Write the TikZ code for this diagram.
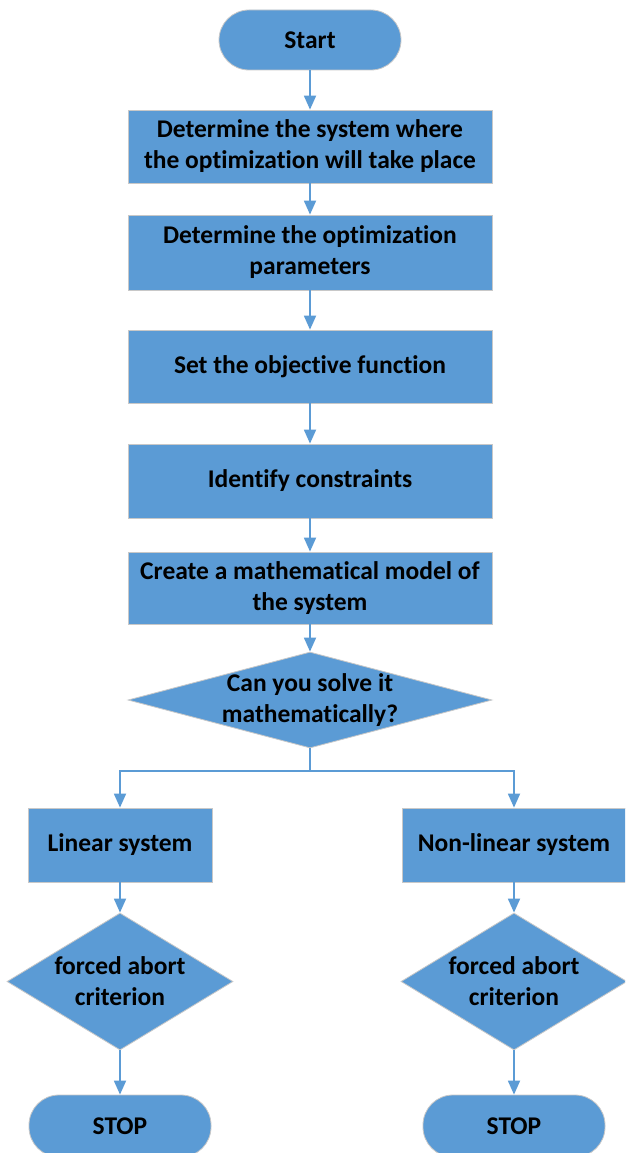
\documentclass[tikz,border=0pt]{standalone}
\usepackage{fontspec}
\setmainfont[Ligatures=NoCommon]{Carlito}
\usetikzlibrary{shapes.geometric,arrows.meta}
\definecolor{fillblue}{HTML}{5B9BD5}
\definecolor{edgegray}{HTML}{C8C8C8}
\begin{document}
\begin{tikzpicture}[x=1pt,y=-1pt,
  every node/.style={font=\fontsize{25.5}{31}\selectfont\bfseries, align=center, text=black},
  procbox/.style={draw=edgegray, line width=0.8pt, fill=fillblue, minimum width=364pt, minimum height=73pt, inner sep=0pt},
  sidebox/.style={draw=edgegray, line width=0.8pt, fill=fillblue, minimum height=74pt, inner sep=0pt},
  termbox/.style={draw=edgegray, line width=0.8pt, fill=fillblue, rounded corners=30pt, minimum width=182pt, minimum height=60pt, inner sep=0pt},
  decision/.style={draw=edgegray, line width=0.8pt, fill=fillblue, shape=diamond, inner sep=0pt},
  arr/.style={draw=fillblue, line width=1.8pt, -{Triangle[length=14pt,width=12pt]}},
  plain/.style={draw=fillblue, line width=1.8pt}
]
\useasboundingbox (0,0) rectangle (625,1153);
\clip (0,0) rectangle (625,1153);
\fill[white] (0,0) rectangle (625,1153);

\node[termbox] (start) at (310,40) {Start};
\node[procbox] (b1) at (310,146.5) {Determine the system where\\the optimization will take place};
\node[procbox, minimum height=75pt] (b2) at (310,252.5) {Determine the optimization\\parameters};
\node[procbox] (b3) at (310,366.5) {Set the objective function};
\node[procbox, minimum height=74pt] (b4) at (310,481) {Identify constraints};
\node[procbox, minimum height=72pt] (b5) at (310,588) {Create a mathematical model of\\the system};
\node[decision, minimum width=364pt, minimum height=96pt,
  label={center:Can you solve it\\mathematically?}] (d) at (310,700) {};
\coordinate (split) at (310,771);
\node[sidebox, minimum width=184pt] (lin) at (120,845) {Linear system};
\node[sidebox, minimum width=224pt] (nonlin) at (514,845) {Non-linear system};
\node[decision, minimum width=226pt, minimum height=137pt,
  label={center:forced abort\\criterion}] (f1) at (120,981.5) {};
\node[decision, minimum width=226pt, minimum height=137pt,
  label={center:forced abort\\criterion}] (f2) at (514,981.5) {};
\node[termbox, minimum height=62pt] (stop1) at (120,1126) {STOP};
\node[termbox, minimum height=62pt] (stop2) at (514,1126) {STOP};

\draw[arr] (start) -- (b1);
\draw[arr] (b1) -- (b2);
\draw[arr] (b2) -- (b3);
\draw[arr] (b3) -- (b4);
\draw[arr] (b4) -- (b5);
\draw[arr] (b5) -- (d);
\draw[plain] (d.south) -- (split);
\draw[arr] (split) -| (lin.north);
\draw[arr] (split) -| (nonlin.north);
\draw[arr] (lin) -- (f1);
\draw[arr] (nonlin) -- (f2);
\draw[arr] (f1) -- (stop1);
\draw[arr] (f2) -- (stop2);
\end{tikzpicture}
\end{document}
